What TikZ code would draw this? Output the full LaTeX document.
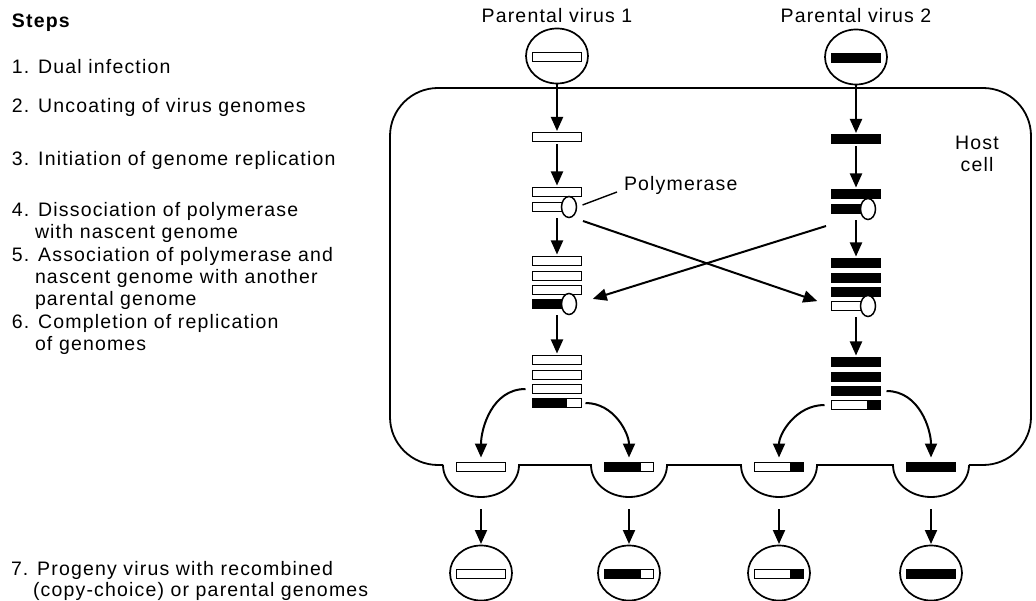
\documentclass[tikz,border=0pt]{standalone}
\usepackage{fontspec}
\setmainfont{Liberation Sans}[LetterSpace=6.0]
\usetikzlibrary{shapes.geometric,arrows.meta,calc}
\begin{document}
\begin{tikzpicture}[x=1pt,y=1pt,
  txt/.style={font=\fontsize{19.5}{22}\selectfont, inner sep=0pt, outer sep=0pt, anchor=base west},
  ctxt/.style={txt, anchor=base},
  wbar/.style={draw, fill=white, line width=1.7pt, minimum width=49pt, minimum height=9pt, inner sep=0pt, outer sep=0pt},
  bbar/.style={wbar, fill=black},
  bwbar/.style={wbar, path picture={\fill[black] (path picture bounding box.south west) rectangle ($(path picture bounding box.north west)!#1!(path picture bounding box.north east)$);}},
  wbbar/.style={wbar, path picture={\fill[black] ($(path picture bounding box.south west)!#1!(path picture bounding box.south east)$) rectangle (path picture bounding box.north east);}},
  pol/.style={ellipse, draw, fill=white, line width=1.5pt, minimum width=15pt, minimum height=21pt, inner sep=0pt, outer sep=0pt},
  virus/.style={ellipse, draw, line width=1.7pt, minimum width=62pt, minimum height=55pt, inner sep=0pt, outer sep=0pt},
  arr/.style={line width=2pt, -{Triangle[length=14pt,width=12pt]}},
  memb/.style={line width=1.8pt},
  ptr/.style={line width=1.4pt}]
\useasboundingbox (0,0) rectangle (1036,-601);

% ---------- left column text ----------
\node[txt, font=\fontsize{19.5}{22}\selectfont\bfseries] (steps) at (12,-28) {Steps};
\node[txt] (t1) at (12,-74) {1. Dual infection};
\node[txt] (t2) at (12,-113) {2. Uncoating of virus genomes};
\node[txt] (t3) at (12,-166) {3. Initiation of genome replication};
\node[txt] (t4a) at (12,-217) {4. Dissociation of polymerase};
\node[txt] (t4b) at (35,-239) {with nascent genome};
\node[txt] (t5a) at (12,-262) {5. Association of polymerase and};
\node[txt] (t5b) at (35,-284) {nascent genome with another};
\node[txt] (t5c) at (35,-306) {parental genome};
\node[txt] (t6a) at (12,-329) {6. Completion of replication};
\node[txt] (t6b) at (35,-351) {of genomes};
\node[txt] (t7a) at (11,-575) {7. Progeny virus with recombined};
\node[txt] (t7b) at (33,-596) {(copy-choice) or parental genomes};

% ---------- host cell ----------
\draw[memb, rounded corners=48pt] (443,-465) -- (390,-465) -- (390,-88) -- (1031,-88) -- (1031,-465) -- (969,-465);
\draw[memb] (443,-465) arc[start angle=180, end angle=360, x radius=38pt, y radius=32pt]
  -- (591,-465) arc[start angle=180, end angle=360, x radius=38pt, y radius=32pt]
  -- (741,-465) arc[start angle=180, end angle=360, x radius=38pt, y radius=32pt]
  -- (893,-465) arc[start angle=180, end angle=360, x radius=38pt, y radius=32pt];
\node[ctxt] (host) at (977,-150) {Host};
\node[ctxt] (cell) at (977,-172) {cell};

% ---------- parental viruses ----------
\node[ctxt] (pv1) at (557,-23) {Parental virus 1};
\node[ctxt] (pv2) at (856,-23) {Parental virus 2};
\node[virus] (v1) at (557,-56) {};
\node[wbar] (v1g) at (557,-57) {};
\node[virus] (v2) at (856,-57) {};
\node[bbar] (v2g) at (856,-58) {};

% ---------- column 1 ----------
\node[wbar] (a1) at (557,-137) {};
\node[wbar] (b1t) at (557,-192) {};
\node[wbar, minimum width=33pt] (b1b) at (549,-207) {};
\node[pol] (b1p) at (569,-207) {};
\node[wbar] (s1a) at (557,-261) {};
\node[wbar] (s1b) at (557,-276) {};
\node[wbar] (s1c) at (557,-290) {};
\node[bbar, minimum width=33pt] (s1d) at (549,-304) {};
\node[pol] (s1p) at (569,-304) {};
\node[wbar] (f1a) at (557,-360) {};
\node[wbar] (f1b) at (557,-375) {};
\node[wbar] (f1c) at (557,-389) {};
\node[bwbar=0.71] (f1d) at (557,-403) {};

% ---------- column 2 ----------
\node[bbar] (a2) at (856,-139) {};
\node[bbar] (b2t) at (856,-194) {};
\node[bbar, minimum width=33pt] (b2b) at (848,-209) {};
\node[pol] (b2p) at (868,-209) {};
\node[bbar] (s2a) at (856,-263) {};
\node[bbar] (s2b) at (856,-278) {};
\node[bbar] (s2c) at (856,-292) {};
\node[wbar, minimum width=33pt] (s2d) at (848,-306) {};
\node[pol] (s2p) at (868,-306) {};
\node[bbar] (f2a) at (856,-362) {};
\node[bbar] (f2b) at (856,-377) {};
\node[bbar] (f2c) at (856,-391) {};
\node[wbbar=0.72] (f2d) at (856,-405) {};

% ---------- polymerase label ----------
\node[txt] (poly) at (624,-191) {Polymerase};
\draw[ptr] ([shift={(6pt,2pt)}]b1p.east) -- ([shift={(-7pt,-1pt)}]poly.base west);

% ---------- budding genomes ----------
\node[wbar] (pb1) at (481,-467) {};
\node[bwbar=0.75] (pb2) at (629,-467) {};
\node[wbbar=0.72] (pb3) at (779,-467) {};
\node[bbar] (pb4) at (931,-467) {};
\coordinate (pk1) at (481,-497);
\coordinate (pk2) at (629,-497);
\coordinate (pk3) at (779,-497);
\coordinate (pk4) at (931,-497);

% ---------- progeny viruses ----------
\node[virus] (q1) at (481,-573) {};
\node[wbar] (qg1) at (481,-574) {};
\node[virus] (q2) at (629,-573) {};
\node[bwbar=0.75] (qg2) at (629,-574) {};
\node[virus] (q3) at (779,-573) {};
\node[wbbar=0.72] (qg3) at (779,-574) {};
\node[virus] (q4) at (931,-573) {};
\node[bbar] (qg4) at (931,-574) {};

% ---------- arrows ----------
\draw[arr, shorten >=1.5pt] (v1) -- (a1);
\draw[arr, shorten >=1.5pt] (v2) -- (a2);
\draw[arr, shorten <=3pt, shorten >=2pt] (a1) -- (b1t);
\draw[arr, shorten <=3pt, shorten >=2pt] (a2) -- (b2t);
\draw[arr, shorten <=1pt, shorten >=2pt] (b1t |- b1p.south) -- (s1a);
\draw[arr, shorten <=1pt, shorten >=2pt] (b2t |- b2p.south) -- (s2a);
\draw[arr, shorten <=1pt, shorten >=2pt] (s1a |- s1p.south) -- (f1a);
\draw[arr, shorten <=1pt, shorten >=2pt] (s2a |- s2p.south) -- (f2a);

\coordinate (c1) at (583,-221);
\coordinate (c2) at (826,-226);
\draw[arr, shorten >=15pt] (c1) -- (s2d.west);
\draw[arr, shorten >=17pt] (c2) -- (s1p.east);

\draw[arr, shorten >=5pt] ([xshift=-7pt]f1c.west) to[out=180, in=90] (pb1.north);
\draw[arr, shorten >=5pt] ([xshift=4pt]f1d.east) to[out=0, in=90] (pb2.north);
\draw[arr, shorten >=5pt] ([xshift=-7pt]f2d.west) to[out=180, in=90] (pb3.north);
\draw[arr, shorten >=5pt] ([xshift=6pt]f2c.east) to[out=0, in=90] (pb4.north);

\draw[arr, shorten <=12pt, shorten >=1.5pt] (pk1) -- (q1);
\draw[arr, shorten <=12pt, shorten >=1.5pt] (pk2) -- (q2);
\draw[arr, shorten <=12pt, shorten >=1.5pt] (pk3) -- (q3);
\draw[arr, shorten <=12pt, shorten >=1.5pt] (pk4) -- (q4);
\end{tikzpicture}
\end{document}
